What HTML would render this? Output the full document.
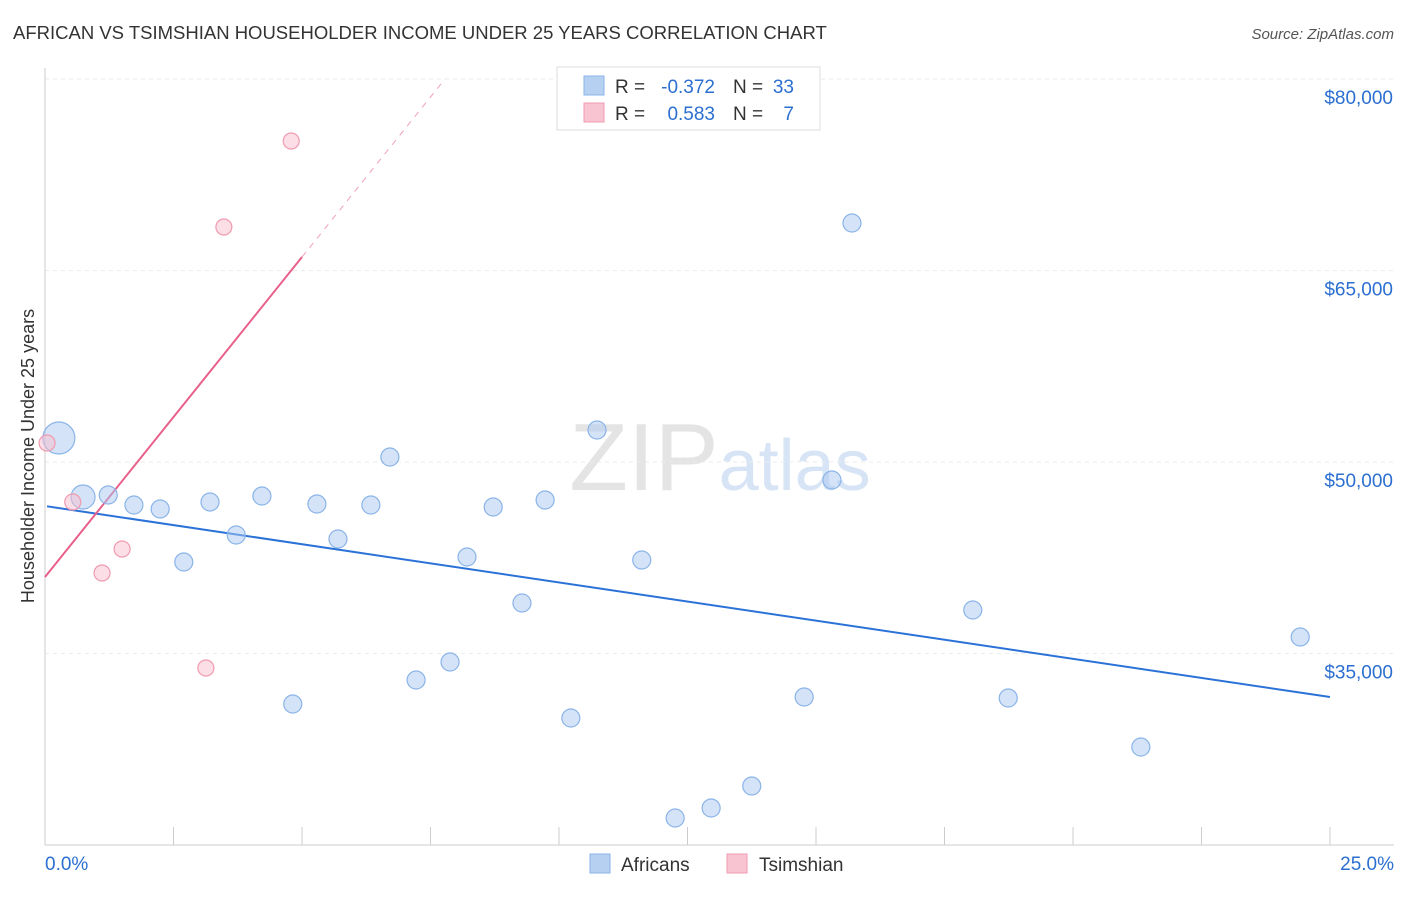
<!DOCTYPE html>
<html><head><meta charset="utf-8"><style>
body{margin:0;background:#fff;font-family:"Liberation Sans",sans-serif}
svg text{font-family:"Liberation Sans",sans-serif}
</style></head><body>
<svg width="1406" height="892" viewBox="0 0 1406 892" xmlns="http://www.w3.org/2000/svg">
<text x="13" y="39" font-size="18.5" fill="#333">AFRICAN VS TSIMSHIAN HOUSEHOLDER INCOME UNDER 25 YEARS CORRELATION CHART</text>
<text x="1394" y="39" font-size="15" fill="#555" text-anchor="end" font-style="italic">Source: ZipAtlas.com</text>
<text x="720" y="490" font-size="96" text-anchor="middle" fill="#e4e4e4" font-family="Liberation Serif">ZIP<tspan fill="#d6e4f5" font-family="Liberation Sans" font-size="72">atlas</tspan></text>
<g id="grid"></g>
<g id="axes"></g>
<g id="lines"></g>
<g id="pts"></g>
<text transform="translate(34,456) rotate(-90)" font-size="18" fill="#333" text-anchor="middle">Householder Income Under 25 years</text>
<g font-size="19">
<rect x="557" y="67" width="263" height="63" fill="#fff" stroke="#ddd"/>
<rect x="584" y="76" width="20" height="19" fill="#b6d0f2" stroke="#8ab4e8"/>
<rect x="584" y="103" width="20" height="19" fill="#f8c4d2" stroke="#f09ab0"/>
<text x="615" y="93" fill="#333">R =</text>
<text x="715" y="93" fill="#2b6fd1" text-anchor="end">-0.372</text>
<text x="733" y="93" fill="#333">N =</text>
<text x="794" y="93" fill="#2b6fd1" text-anchor="end">33</text>
<text x="615" y="120" fill="#333">R =</text>
<text x="715" y="120" fill="#2b6fd1" text-anchor="end">0.583</text>
<text x="733" y="120" fill="#333">N =</text>
<text x="794" y="120" fill="#2b6fd1" text-anchor="end">7</text>
</g>
<g>
<rect x="590" y="854" width="20" height="19" fill="#b6d0f2" stroke="#8ab4e8"/>
<text x="621" y="871" font-size="19" fill="#333">Africans</text>
<rect x="727" y="854" width="20" height="19" fill="#f8c4d2" stroke="#f09ab0"/>
<text x="759" y="871" font-size="19" fill="#333">Tsimshian</text>
</g>
</svg>
<script>
const yTicks=[80000,65000,50000,35000];
const yTickLabels=["$80,000","$65,000","$50,000","$35,000"];
const xTickLabels=["0.0%","25.0%"];
const africanX=[0.27,0.74,1.23,1.73,2.24,2.70,3.21,3.72,4.22,4.82,5.29,5.70,6.34,6.71,7.22,7.88,8.21,8.72,9.28,9.73,10.23,10.74,11.61,12.26,12.96,13.75,14.77,15.31,15.70,18.05,18.74,21.32,24.42];
const africanY=[51880,47258,47415,46631,46318,42166,46866,44282,47336,31044,46710,43968,46631,50391,32924,34334,42558,46475,38955,47023,29947,52506,42323,22114,22897,24621,31592,48590,68720,38407,31514,27676,36292];
const africanR=[16,12,9,9,9,9,9,9,9,9,9,9,9,9,9,9,9,9,9,9,9,9,9,9,9,9,9,9,9,9,9,9,9];
const tsimX=[0.04,0.54,1.11,1.50,3.13,3.48,4.79];
const tsimY=[51488,46866,41305,43185,33863,68407,75144];
const africanTrend=[46553,31592];
const tsimTrend=[40990,5013];
const NS="http://www.w3.org/2000/svg";
const X=v=>45+v/25*1285;
const Y=v=>79+(80000-v)*191.5/15000;
function mk(tag,attrs,parent){const e=document.createElementNS(NS,tag);for(const k in attrs)e.setAttribute(k,attrs[k]);document.getElementById(parent).appendChild(e);return e;}
yTicks.forEach((t,i)=>{
 const l=mk('line',{x1:45,x2:1394,y1:Y(t),y2:Y(t),stroke:'#ebebeb','stroke-dasharray':'4,4'},'grid');
 
 
 const tx=mk('text',{x:1393,y:Y(t)+25,'font-size':19,fill:'#2b6fd1','text-anchor':'end'},'grid');
 tx.textContent=yTickLabels[i];
 
 
});
const ax=mk('line',{x1:45,x2:1394,y1:845,y2:845,stroke:'#ccc'},'axes');


const ay=mk('line',{x1:45,x2:45,y1:68,y2:845,stroke:'#ccc'},'axes');


for(let i=1;i<=10;i++){const t=mk('line',{x1:X(i*2.5),x2:X(i*2.5),y1:827,y2:845,stroke:'#ccc'},'axes');
 
 }
const xl0=mk('text',{x:45,y:870,'font-size':19,fill:'#2b6fd1'},'axes');xl0.textContent=xTickLabels[0];


const xl1=mk('text',{x:1394,y:870,'font-size':19,fill:'#2b6fd1','text-anchor':'end'},'axes');xl1.textContent=xTickLabels[1];


africanX.forEach((x,i)=>{const c=mk('circle',{cx:X(x),cy:Y(africanY[i]),r:africanR[i],fill:'rgba(170,200,240,0.5)',stroke:'#8ab4e8','stroke-width':1.2},'pts');
 
 });
tsimX.forEach((x,i)=>{const c=mk('circle',{cx:X(x),cy:Y(tsimY[i]),r:8,fill:'rgba(248,190,205,0.5)',stroke:'#f09ab0','stroke-width':1.2},'pts');
 
 });
const bl=mk('line',{x1:X(0.04),y1:Y(africanTrend[0]+(africanTrend[1]-africanTrend[0])*0.04/25),x2:X(25),y2:Y(africanTrend[1]),stroke:'#2b72d8','stroke-width':2},'lines');


const tf=x=>tsimTrend[0]+tsimTrend[1]*x;
const pl=mk('line',{x1:X(0),y1:Y(tf(0)),x2:X(5),y2:Y(tf(5)),stroke:'#e8608a','stroke-width':2},'lines');


const xe=(80000-tsimTrend[0])/tsimTrend[1];
const pd=mk('line',{x1:X(5),y1:Y(tf(5)),x2:X(xe),y2:Y(80000),stroke:'#f0a0b8','stroke-width':1,'stroke-dasharray':'6,6'},'lines');


</script>
</body></html>
